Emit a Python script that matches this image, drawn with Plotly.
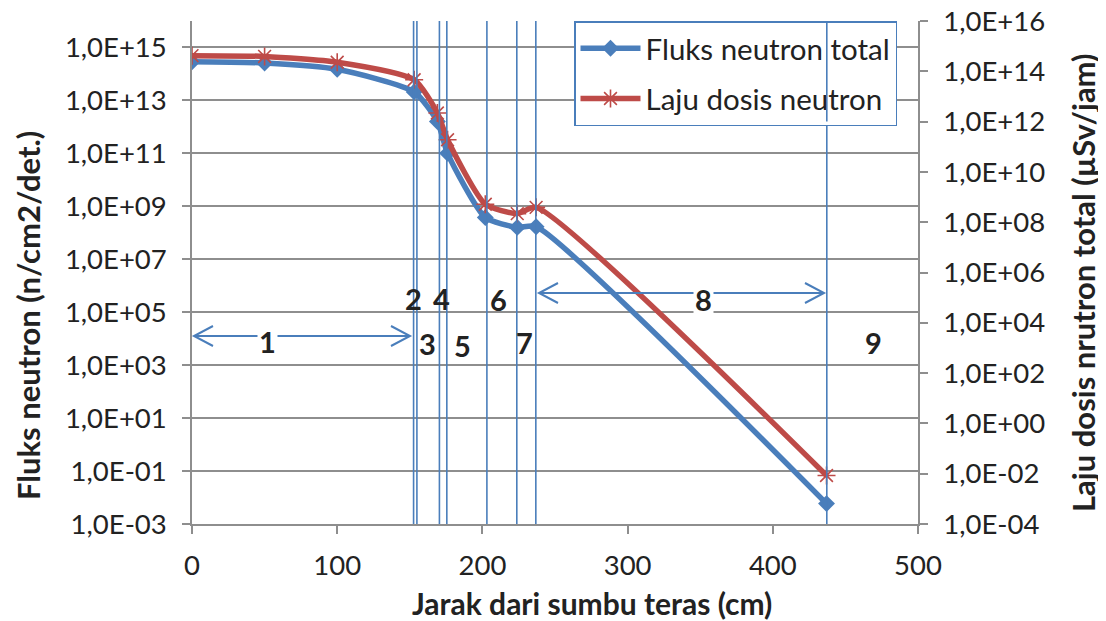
import plotly.graph_objects as go

# ---------------- data ----------------
distance_cm = [0, 50, 100, 153, 169, 176, 202, 224, 237, 437]
flux_total = [2.9e14, 2.6e14, 1.5e14, 2.1e13, 1.6e12, 1.0e11, 3.8e8, 1.6e8, 1.7e8, 5.9e-3]
dose_rate = [4.2e14, 3.9e14, 2.3e14, 4.6e13, 2.2e12, 1.9e11, 5.2e8, 2.2e8, 3.9e8, 8.5e-3]

boundaries_cm = [152.6, 154.9, 170.4, 175.5, 203.1, 223.7, 236.8, 437.2]
region_labels = ["1", "2", "3", "4", "5", "6", "7", "8", "9"]

left_exponents = list(range(-3, 16, 2))
right_exponents = list(range(-4, 17, 2))
x_ticks = [0, 100, 200, 300, 400, 500]

left_tickvals = [10.0 ** e for e in left_exponents]
left_ticktext = ["1,0E" + format(e, "+03d") for e in left_exponents]
right_tickvals = [10.0 ** e for e in right_exponents]
right_ticktext = ["1,0E" + format(e, "+03d") for e in right_exponents]

# ---------------- layout geometry (reference pixel coords) ----------------
OFF = 8  # page body margin
W, H = 1106 - OFF, 621 - OFF
L, R, T, B = 192, 918, 21, 524
BLUE = "#4A7EBB"
RED = "#BE4B48"
GRID = "#8E8E8E"
FONT = "Lato"
TXT = "#222222"


def px(x):
    return (x - L) / (R - L)


def py(y):
    return (B - y) / (B - T)


fig = go.Figure()

fig.add_trace(go.Scatter(
    x=distance_cm, y=flux_total, name="Fluks neutron total",
    mode="lines+markers", legendgroup="a",
    line=dict(color=BLUE, width=5.5, shape="spline", smoothing=0.6),
    marker=dict(symbol="diamond", size=13, color=BLUE),
    yaxis="y",
))
fig.add_trace(go.Scatter(
    x=distance_cm, y=dose_rate, name="Laju dosis neutron",
    mode="lines+markers", legendgroup="b",
    line=dict(color=RED, width=5.5, shape="spline", smoothing=0.6),
    marker=dict(symbol="asterisk-open", size=15, color=RED, line=dict(color=RED, width=1.6)),
    yaxis="y2",
))

# vertical boundary lines
for b in boundaries_cm:
    fig.add_shape(type="line", xref="x", yref="paper", x0=b, x1=b, y0=0, y1=1,
                  line=dict(color=BLUE, width=1.6), layer="above")

# last boundary line crossing over the legend box
fig.add_annotation(x=boundaries_cm[-1], xref="x", y=1, yref="paper",
                   ax=0, ay=102, axref="pixel", ayref="pixel", text="",
                   showarrow=True, arrowhead=0, arrowwidth=1.6, arrowcolor=BLUE,
                   standoff=0, startstandoff=0)


# double headed arrows
def arrow(x1, x2, y):
    fig.add_shape(type="line", xref="paper", yref="paper",
                  x0=px(x1), x1=px(x2), y0=py(y), y1=py(y),
                  line=dict(color=BLUE, width=2))
    for tip, d in ((x1, 1), (x2, -1)):
        path = "M {} {} L {} {} L {} {}".format(
            px(tip + d * 19), py(y - 10), px(tip), py(y), px(tip + d * 19), py(y + 10))
        fig.add_shape(type="path", xref="paper", yref="paper", path=path,
                      line=dict(color=BLUE, width=2))


arrow(194, 410, 336)
arrow(539, 824, 293)

label_pos = {
    "1": (267, 341), "2": (413, 298), "3": (427, 343), "4": (441.5, 298),
    "5": (462.5, 345), "6": (498, 299), "7": (524, 342), "8": (703, 299), "9": (873, 342),
}
for lab in region_labels:
    xp, yp = label_pos[lab]
    bg = "white" if lab in ("1", "8") else "rgba(0,0,0,0)"
    fig.add_annotation(x=px(xp), y=py(yp), xref="paper", yref="paper", text="<b>%s</b>" % lab,
                       showarrow=False, font=dict(family=FONT, size=29, color=TXT),
                       bgcolor=bg, borderpad=1, xanchor="center", yanchor="middle")

# axis titles
fig.add_annotation(x=px(592), y=py(603), xref="paper", yref="paper",
                   text="<b>Jarak dari sumbu teras (cm)</b>", showarrow=False,
                   xanchor="center", yanchor="middle",
                   font=dict(family=FONT, size=30, color=TXT))
fig.add_annotation(x=px(28), y=py(316), xref="paper", yref="paper",
                   text="<b>Fluks neutron (n/cm2/det.)</b>", showarrow=False, textangle=-90,
                   xanchor="center", yanchor="middle",
                   font=dict(family=FONT, size=31, color=TXT))
fig.add_annotation(x=px(1083), y=py(283), xref="paper", yref="paper",
                   text="<b>Laju dosis nrutron total (µSv/jam)</b>", showarrow=False, textangle=-90,
                   xanchor="center", yanchor="middle",
                   font=dict(family=FONT, size=31, color=TXT))

axis_common = dict(zeroline=False, showline=True, linecolor=GRID, linewidth=1.5,
                   ticks="outside", ticklen=8, tickcolor=GRID, tickwidth=1.5,
                   ticklabeloverflow="allow",
                   tickfont=dict(family=FONT, size=27.5, color=TXT))

fig.update_layout(
    width=W, height=H,
    margin=dict(l=L - OFF, r=W - (R - OFF), t=T - OFF, b=H - (B - OFF), autoexpand=False),
    paper_bgcolor="white", plot_bgcolor="white",
    font=dict(family=FONT, size=26, color=TXT),
    showlegend=True,
    legend=dict(x=px(574), y=1, xanchor="left", yanchor="top",
                bgcolor="white", bordercolor=BLUE, borderwidth=1.5,
                font=dict(family=FONT, size=29.5, color=TXT),
                tracegroupgap=9, itemwidth=60, traceorder="grouped"),
    xaxis=dict(range=[0, 500], tickvals=x_ticks, showgrid=False,
               ticklabelstandoff=8, **axis_common),
    yaxis=dict(type="log", range=[-3, 16], tickvals=left_tickvals, ticktext=left_ticktext,
               showgrid=True, gridcolor=GRID, gridwidth=1.5, ticklabelstandoff=10,
               **axis_common),
    yaxis2=dict(type="log", range=[-4, 16], tickvals=right_tickvals, ticktext=right_ticktext,
                overlaying="y", side="right", showgrid=False, ticklabelstandoff=10,
                **axis_common),
)

fig.write_html("out.html")
